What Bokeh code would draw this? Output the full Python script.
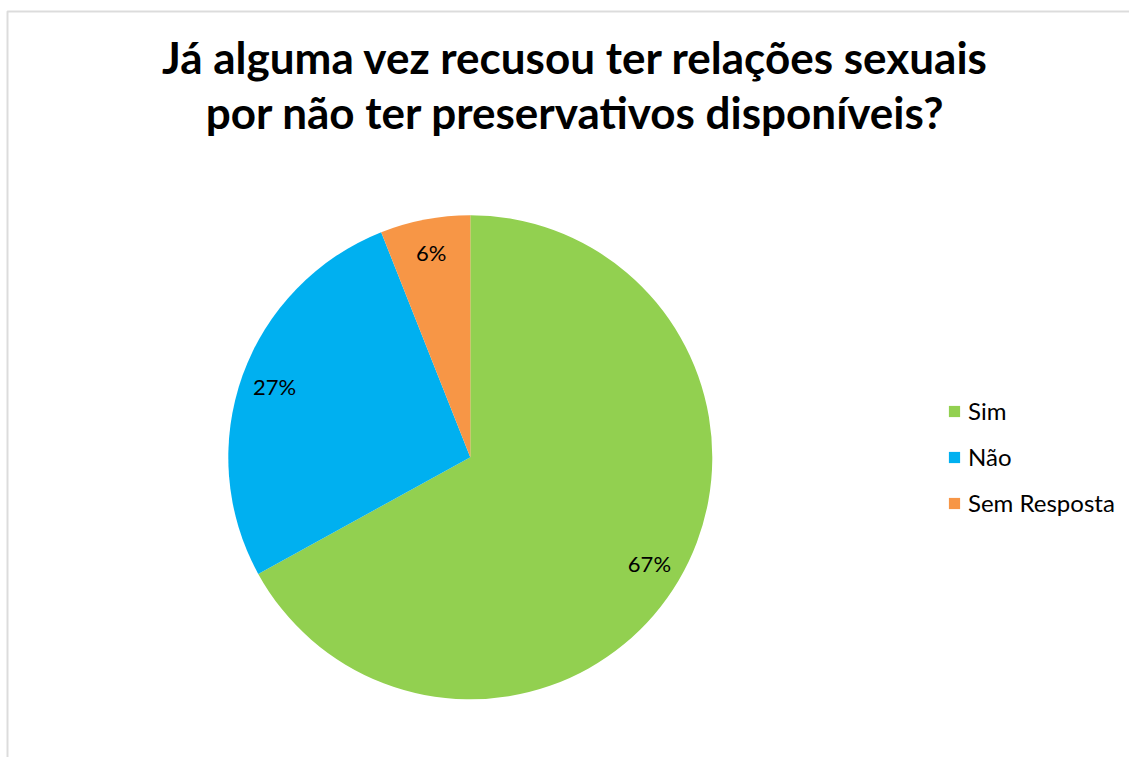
import math
from bokeh.plotting import figure
from bokeh.models import Range1d, Legend, LegendItem, Label, BoxAnnotation, ColumnDataSource
from bokeh.embed import file_html
from bokeh.resources import INLINE

# ---- data ----
categories = ["Sim", "Não", "Sem Resposta"]
values = [67, 27, 6]
colors = ["#92D050", "#00B0F0", "#F79646"]
pct_labels = ["67%", "27%", "6%"]
title_lines = ["Já alguma vez recusou ter relações sexuais",
               "por não ter preservativos disponíveis?"]

W, H = 1129, 757
FONT = "Lato"

p = figure(width=W, height=H, output_backend="svg", toolbar_location=None,
           x_range=Range1d(0, W), y_range=Range1d(0, H), min_border=0,
           tools="")
p.xaxis.visible = False
p.yaxis.visible = False
p.grid.visible = False
p.outline_line_color = None
p.background_fill_color = "white"
p.border_fill_color = "white"

# border of the chart area
p.add_layout(BoxAnnotation(left=7, right=W + 50, bottom=-50, top=H - 11,
                           fill_alpha=0, line_color="#8C8C8C", line_width=2))

cx, cy, R = 469.8, H - 456.8, 242.0
total = float(sum(values))
starts, ends, mids = [], [], []
cum = 0.0
for v in values:
    a0 = math.pi / 2 - 2 * math.pi * cum / total
    cum += v
    a1 = math.pi / 2 - 2 * math.pi * cum / total
    starts.append(a0)
    ends.append(a1)
    mids.append((a0 + a1) / 2)

src = ColumnDataSource(dict(cat=categories, val=values, color=colors,
                            start=starts, end=ends, label=pct_labels,
                            lx=[cx + 0.86 * R * math.cos(m) for m in mids],
                            ly=[cy + 0.86 * R * math.sin(m) for m in mids]))

items = []
for i, c in enumerate(categories):
    r = p.wedge(x=cx, y=cy, radius=R, start_angle=starts[i], end_angle=ends[i],
                direction="clock", fill_color=colors[i], line_color=None)
    items.append(LegendItem(label=c, renderers=[r]))

p.text(x="lx", y="ly", text="label", source=src, text_align="center",
       text_baseline="middle", text_font_size="22px", text_color="black",
       text_font={"value": FONT})

# title
for i, line in enumerate(title_lines):
    p.add_layout(Label(x=575, y=701 - 55 * i, text=line, text_align="center",
                       text_baseline="alphabetic", text_font=FONT,
                       text_font_style="bold", text_font_size="44px",
                       text_color="black"))

legend = Legend(items=items, location=(947, 240), orientation="vertical",
                glyph_width=14, glyph_height=14, label_standoff=7,
                label_text_font=FONT, label_text_font_size="24px",
                label_text_color="black", label_height=14,
                spacing=17, padding=0, margin=0,
                border_line_color=None, background_fill_alpha=0)
p.add_layout(legend)

open("out.html", "w").write(file_html(p, INLINE))
